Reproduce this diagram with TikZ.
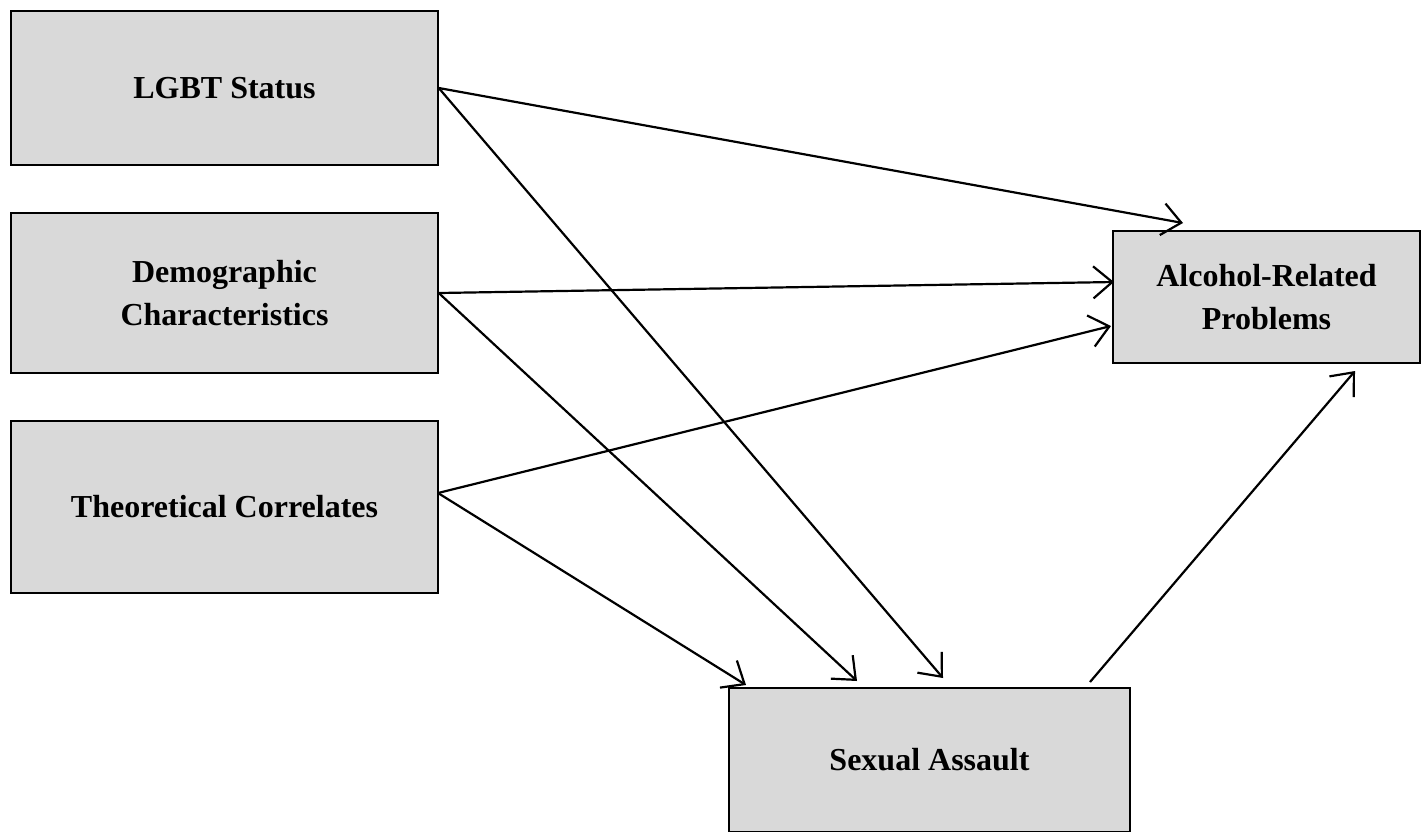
\documentclass[tikz,border=0pt]{standalone}
\usepackage{fontspec}
\setmainfont{Liberation Serif}
\usetikzlibrary{arrows.meta}

\begin{document}
\begin{tikzpicture}[x=1pt, y=-1pt,
    box/.style={draw, line width=1.5pt, fill=boxgray, align=center, inner sep=0pt,
                font=\fontsize{32}{43}\selectfont\bfseries},
    every edge/.style={draw, line width=2.2pt, -{Straight Barb[length=19pt, width=32pt, line width=2.2pt]}}]
  \definecolor{boxgray}{HTML}{D9D9D9}
  \useasboundingbox (0,0) rectangle (1421,831);
  \node[box, minimum width=427pt, minimum height=154pt] (lgbt)    at (224.5,88)  {LGBT Status};
  \node[box, minimum width=427pt, minimum height=160pt] (demo)    at (224.5,293) {Demographic\\Characteristics};
  \node[box, minimum width=427pt, minimum height=172pt] (theo)    at (224.5,507) {Theoretical Correlates};
  \node[box, minimum width=307pt, minimum height=132pt] (alcohol) at (1266.5,297) {Alcohol-Related\\Problems};
  \node[box, minimum width=401pt, minimum height=144pt] (assault) at (929.5,760) {Sexual Assault};
  \coordinate (theoout)  at (438,493);
  \coordinate (alctop)   at (1183,223);
  \coordinate (alcmid)   at (1114,282);
  \coordinate (alclow)   at (1111,326);
  \coordinate (alcbot)   at (1355,371);
  \coordinate (saleft)   at (746,685);
  \coordinate (samid)    at (857,681);
  \coordinate (saright)  at (943,678);
  \coordinate (saout)    at (1090,682);
  \path
    (lgbt.east) edge (alctop)
    (lgbt.east) edge (saright)
    (demo.east) edge (alcmid)
    (demo.east) edge (samid)
    (theoout)   edge (alclow)
    (theoout)   edge (saleft)
    (saout)     edge (alcbot)
    ;
\end{tikzpicture}
\end{document}
